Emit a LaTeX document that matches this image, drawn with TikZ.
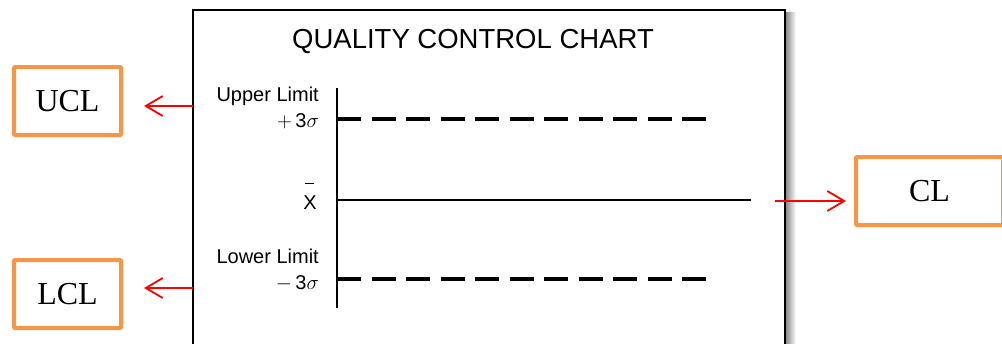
\documentclass[tikz,border=0pt]{standalone}
\usepackage{fontspec}
\setmainfont{Liberation Serif}
\setsansfont{Liberation Sans}
\usetikzlibrary{arrows.meta,positioning}
\definecolor{boxorange}{HTML}{F79646}

\tikzset{
  limbox/.style={draw=boxorange, line width=4pt, rounded corners=1pt,
    minimum width=107pt, minimum height=68pt, font=\fontsize{32}{36}\selectfont},
  pointer/.style={draw=red, line width=1.8pt,
    -{Straight Barb[length=17pt,width=20pt,line width=1.8pt]}},
  lbl/.style={font=\sffamily\fontsize{20}{26}\selectfont, align=right,
    anchor=east, inner sep=0pt},
  limline/.style={line width=3.5pt, dash pattern=on 24pt off 10.5pt},
}

\begin{document}
\begin{tikzpicture}[x=1pt,y=-1pt]
  \useasboundingbox (0,0) rectangle (1002,343);
  % chart frame with its shadow
  \shade[left color=black!45,right color=white] (786,12) rectangle (796,343);
  \draw[line width=2pt] (193,360) -- (193,10) -- (785,10) -- (785,360);
  \node[font=\sffamily\fontsize{27.5}{30}\selectfont] (title) at (473,41) {QUALITY CONTROL CHART};
  % axis and limit lines
  \coordinate (axtop) at (337,88);
  \coordinate (axbot) at (337,308);
  \draw[line width=2pt] (axtop) -- (axbot);
  \draw[limline] (337,119) -- (706,119);
  \draw[line width=2.5pt] (337,200) -- (751,200);
  \draw[limline] (337,279) -- (706,279);
  \node[lbl] (upper) at (319,108) {Upper Limit\\$+$\,3$\sigma$};
  \node[lbl, anchor=base east] (mean) at (317,209)
    {\makebox[0pt][l]{\hspace{2pt}\rule[25pt]{9pt}{1.3pt}}X};
  \node[lbl] (lower) at (319,270.5) {Lower Limit\\$-$\,3$\sigma$};
  % boxes and pointers
  \node[limbox] (ucl) at (67.5,101) {UCL};
  \node[limbox] (lcl) at (67.5,294) {LCL};
  \node[limbox, minimum width=147pt] (cl) at (929.5,191) {CL};
  \coordinate (uclstart) at (193,106);
  \coordinate (lclstart) at (193,288);
  \coordinate (clstart) at (775,201);
  \draw[pointer, shorten >=21pt] (uclstart) -- (uclstart -| ucl.east);
  \draw[pointer, shorten >=21pt] (lclstart) -- (lclstart -| lcl.east);
  \draw[pointer, shorten >=8pt] (clstart) -- (clstart -| cl.west);
\end{tikzpicture}
\end{document}
